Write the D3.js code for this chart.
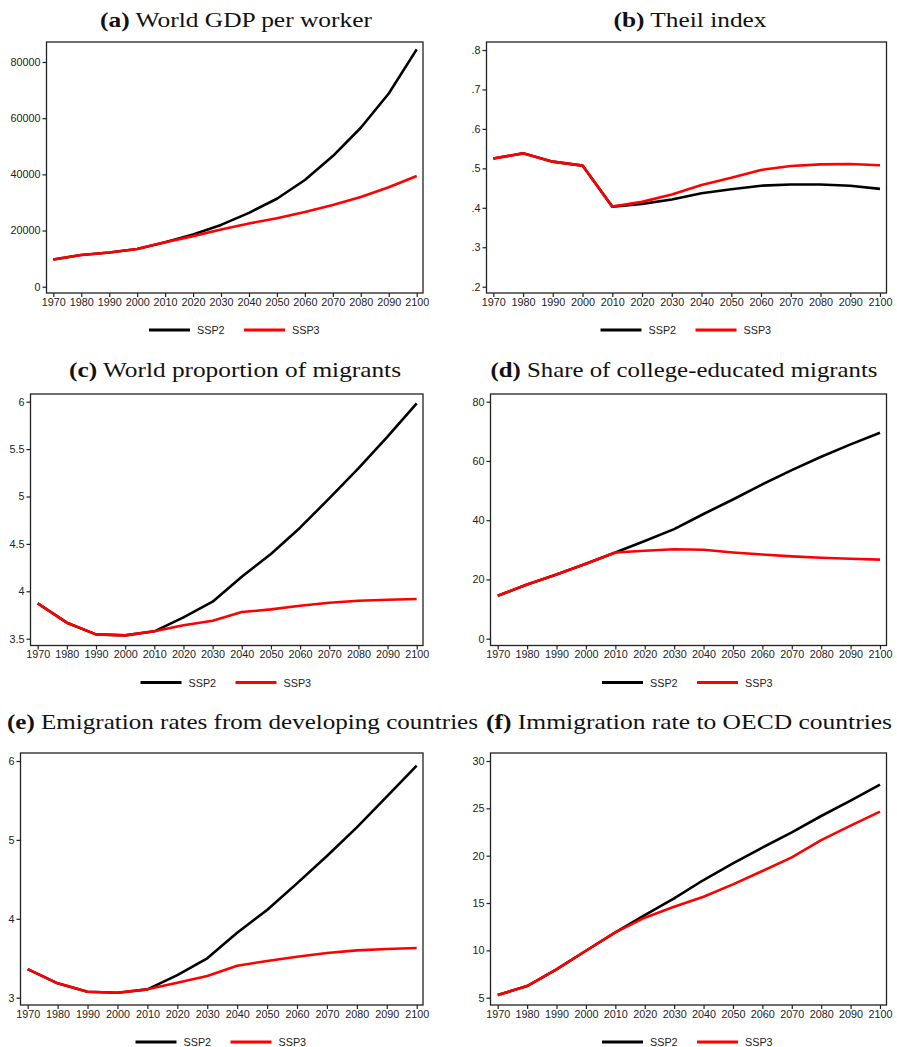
<!DOCTYPE html>
<html>
<head>
<meta charset="utf-8">
<script src="https://cdn.jsdelivr.net/npm/d3@7"></script>
<style>
  body { margin: 0; background: #fff; }
  svg { display: block; }
</style>
</head>
<body>
<svg id="chart"></svg>
<script>
// Data
var years = [1970, 1980, 1990, 2000, 2010, 2020, 2030, 2040, 2050, 2060, 2070, 2080, 2090, 2100];
var seriesNames = ["SSP2", "SSP3"];

var gdpSSP2 = [9700, 11300, 12200, 13400, 15800, 18600, 22000, 26300, 31300, 38000, 46500, 56600, 68800, 84500];
var gdpSSP3 = [9700, 11300, 12200, 13400, 15800, 18000, 20400, 22500, 24400, 26600, 29100, 31900, 35400, 39400];

var theilSSP2 = [0.525, 0.538, 0.517, 0.507, 0.403, 0.410, 0.421, 0.437, 0.447, 0.456, 0.459, 0.459, 0.456, 0.448];
var theilSSP3 = [0.525, 0.538, 0.517, 0.507, 0.403, 0.415, 0.434, 0.458, 0.476, 0.496, 0.506, 0.510, 0.511, 0.508];

var migSSP2 = [3.873, 3.669, 3.546, 3.535, 3.578, 3.725, 3.890, 4.154, 4.393, 4.671, 4.980, 5.297, 5.631, 5.982];
var migSSP3 = [3.873, 3.669, 3.546, 3.535, 3.578, 3.641, 3.690, 3.781, 3.809, 3.848, 3.880, 3.901, 3.911, 3.918];

var collSSP2 = [14.5, 18.3, 21.7, 25.3, 29.1, 33.0, 37.0, 42.1, 47.0, 52.1, 56.9, 61.4, 65.6, 69.5];
var collSSP3 = [14.5, 18.3, 21.7, 25.3, 29.1, 29.7, 30.2, 30.0, 29.1, 28.4, 27.8, 27.3, 27.0, 26.7];

var emiSSP2 = [3.363, 3.182, 3.076, 3.063, 3.106, 3.287, 3.499, 3.824, 4.111, 4.449, 4.796, 5.159, 5.548, 5.941];
var emiSSP3 = [3.363, 3.182, 3.076, 3.063, 3.106, 3.190, 3.275, 3.406, 3.465, 3.520, 3.566, 3.600, 3.617, 3.630];

var immSSP2 = [5.28, 6.23, 7.99, 9.96, 11.90, 13.73, 15.49, 17.43, 19.19, 20.85, 22.46, 24.19, 25.81, 27.50];
var immSSP3 = [5.28, 6.23, 7.99, 9.96, 11.90, 13.45, 14.61, 15.67, 16.97, 18.38, 19.82, 21.65, 23.17, 24.65];

// tick labels
var ticksA = [0, 20000, 40000, 60000, 80000];
var ticksB = [0.2, 0.3, 0.4, 0.5, 0.6, 0.7, 0.8];
var ticksC = [3.5, 4, 4.5, 5, 5.5, 6];
var ticksD = [0, 20, 40, 60, 80];
var ticksE = [3, 4, 5, 6];
var ticksF = [5, 10, 15, 20, 25, 30];

var svgWidth = 897;
var svgHeight = 1047;

var svg = d3.select("#chart")
    .attr("width", svgWidth)
    .attr("height", svgHeight);

var colors = ["#000000", "#ff0000"];

var fmtDot = function(d) { return d3.format(".1f")(d).replace(/^0/, ""); };
var fmtPlain = function(d) { return String(d); };

// panel layouts (box, where first/last year and tick ends sit, title, legend)
var panels = [
  { letter: "(a)", title: " World GDP per worker", s2: gdpSSP2, s3: gdpSSP3, ticks: ticksA, fmt: fmtPlain,
    box: [46.5, 42, 423, 293], xr: [53.3, 416.7], yr: [286.7, 62],
    tx: 236, ty: 27, tw: 272, leg: 149 },
  { letter: "(b)", title: " Theil index", s2: theilSSP2, s3: theilSSP3, ticks: ticksB, fmt: fmtDot,
    box: [486.5, 42, 886.5, 293], xr: [493.3, 880], yr: [286.7, 50],
    tx: 690, ty: 27, tw: 153, leg: 600.5 },
  { letter: "(c)", title: " World proportion of migrants", s2: migSSP2, s3: migSSP3, ticks: ticksC, fmt: fmtPlain,
    box: [30.5, 394, 423, 645.5], xr: [37.7, 416.7], yr: [638.7, 401.7],
    tx: 235, ty: 377, tw: 332, leg: 140.5 },
  { letter: "(d)", title: " Share of college-educated migrants", s2: collSSP2, s3: collSSP3, ticks: ticksD, fmt: fmtPlain,
    box: [490.5, 394, 886.5, 645.5], xr: [497.7, 880], yr: [638.7, 401.7],
    tx: 684, ty: 377, tw: 387, leg: 602 },
  { letter: "(e)", title: " Emigration rates from developing countries", s2: emiSSP2, s3: emiSSP3, ticks: ticksE, fmt: fmtPlain,
    box: [20.5, 753, 423, 1005], xr: [27.7, 416.7], yr: [997.7, 761],
    tx: 242.5, ty: 729, tw: 471, leg: 135.5 },
  { letter: "(f)", title: " Immigration rate to OECD countries", s2: immSSP2, s3: immSSP3, ticks: ticksF, fmt: fmtPlain,
    box: [490.5, 753, 886.5, 1005], xr: [497.7, 880], yr: [997.7, 761],
    tx: 689, ty: 729, tw: 406, leg: 602 }
];

panels.forEach(function(p) {
  var g = svg.append("g");

  var xScale = d3.scaleLinear()
      .domain([years[0], years[years.length - 1]])
      .range(p.xr);
  var yScale = d3.scaleLinear()
      .domain([p.ticks[0], p.ticks[p.ticks.length - 1]])
      .range(p.yr);

  // title
  var t = g.append("text")
      .attr("x", p.tx)
      .attr("y", p.ty)
      .attr("text-anchor", "middle")
      .attr("font-family", "'Liberation Serif', 'DejaVu Serif', serif")
      .attr("font-size", 21)
      .attr("fill", "#111")
      .attr("textLength", p.tw)
      .attr("lengthAdjust", "spacingAndGlyphs");
  t.append("tspan").attr("font-weight", "bold").text(p.letter);
  t.append("tspan").text(p.title);

  // frame
  g.append("rect")
      .attr("x", p.box[0])
      .attr("y", p.box[1])
      .attr("width", p.box[2] - p.box[0])
      .attr("height", p.box[3] - p.box[1])
      .attr("fill", "none")
      .attr("stroke", "#222")
      .attr("stroke-width", 1.3);

  // axes
  var bottomAxis = d3.axisBottom(xScale)
      .tickValues(years)
      .tickFormat(d3.format("d"))
      .tickSizeOuter(0)
      .tickSizeInner(4)
      .tickPadding(1);
  var leftAxis = d3.axisLeft(yScale)
      .tickValues(p.ticks)
      .tickFormat(p.fmt)
      .tickSizeOuter(0)
      .tickSizeInner(4)
      .tickPadding(2);

  var xa = g.append("g")
      .attr("transform", "translate(0," + p.box[3] + ")")
      .call(bottomAxis);
  var ya = g.append("g")
      .attr("transform", "translate(" + p.box[0] + ",0)")
      .call(leftAxis);

  [xa, ya].forEach(function(a) {
    a.select(".domain").remove();
    a.selectAll("line").attr("stroke", "#222").attr("stroke-width", 1.2);
    a.selectAll("text")
        .attr("font-family", "'Liberation Sans', Arial, sans-serif")
        .attr("font-size", 10.8)
        .attr("fill", "#222");
  });

  // lines
  var line = d3.line()
      .x(function(d, i) { return xScale(years[i]); })
      .y(function(d) { return yScale(d); });

  [p.s2, p.s3].forEach(function(s, k) {
    g.append("path")
        .datum(s)
        .attr("d", line)
        .attr("fill", "none")
        .attr("stroke", colors[k])
        .attr("stroke-width", 2.6)
        .attr("stroke-linejoin", "round");
  });

  // legend
  var ly = p.box[3] + 37;
  seriesNames.forEach(function(name, k) {
    var lx = p.leg + k * 95;
    g.append("line")
        .attr("x1", lx)
        .attr("x2", lx + 41)
        .attr("y1", ly)
        .attr("y2", ly)
        .attr("stroke", colors[k])
        .attr("stroke-width", 3);
    g.append("text")
        .attr("x", lx + 48)
        .attr("y", ly + 4)
        .attr("font-family", "'Liberation Sans', Arial, sans-serif")
        .attr("font-size", 10.8)
        .attr("fill", "#222")
        .text(name);
  });
});
</script>
</body>
</html>
